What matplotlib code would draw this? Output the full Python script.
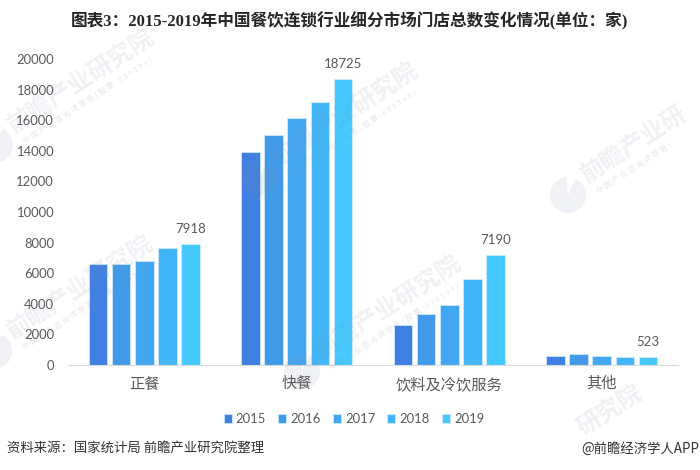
import numpy as np
import matplotlib
matplotlib.use('Agg')
import matplotlib.pyplot as plt
from matplotlib.patches import Wedge

plt.rcParams['font.family'] = ['Lato', 'Noto Sans CJK SC', 'DejaVu Sans']

categories = ['正餐', '快餐', '饮料及冷饮服务', '其他']
years = ['2015', '2016', '2017', '2018', '2019']
v2015 = [6600, 13900, 2620, 570]
v2016 = [6600, 15020, 3330, 700]
v2017 = [6830, 16120, 3940, 570]
v2018 = [7640, 17190, 5620, 505]
v2019 = [7918, 18725, 7190, 523]
series = [v2015, v2016, v2017, v2018, v2019]
colors = ['#3F80E2', '#409AE8', '#42A6F1', '#42B5F8', '#45C9FF']
yticks = [0, 2000, 4000, 6000, 8000, 10000, 12000, 14000, 16000, 18000, 20000]

fig = plt.figure(figsize=(7, 4.7), dpi=100)
ax = fig.add_axes([68 / 700, 105 / 470, 610 / 700, 306 / 470])

x = np.arange(len(categories))
step = 0.152
for i, vals in enumerate(series):
    ax.bar(x + (i - 2) * step, vals, width=0.122, color=colors[i],
           edgecolor='#CFE8FB', linewidth=0.6, label=years[i], zorder=2)

# 只标2019年的数值
for xi, v in zip(x, v2019):
    ax.text(xi + 2 * step, v + 560, str(v), ha='center', va='bottom',
            fontsize=9.5, color='#595959')

ax.set_xlim(-0.5, 3.5)
ax.set_ylim(0, 20000)
ax.set_xticks(x)
ax.set_xticklabels(categories, fontsize=11, color='#595959')
ax.set_yticks(yticks)
ax.set_yticklabels(yticks, fontsize=9.4, color='#595959')
ax.tick_params(length=0)
ax.tick_params(axis='x', pad=8.5)
ax.tick_params(axis='y', pad=10)
for s in ['top', 'right', 'left']:
    ax.spines[s].set_visible(False)
ax.spines['bottom'].set_color('#D9D9D9')

fig.legend(loc='center', bbox_to_anchor=(354 / 700, 1 - 419 / 470), ncol=5, frameon=False,
           fontsize=9.4, labelcolor='#595959', handlelength=0.62, handleheight=0.62,
           handletextpad=0.31, columnspacing=0.93, borderpad=0)

fig.text(349 / 700, 1 - 21 / 470, '图表3：2015-2019年中国餐饮连锁行业细分市场门店总数变化情况(单位：家)',
         ha='center', va='center', fontsize=12, fontweight='bold', color='#262626',
         family=['Liberation Serif', 'Noto Sans CJK SC'])
fig.text(7 / 700, 1 - 449 / 470, '资料来源：国家统计局 前瞻产业研究院整理',
         ha='left', va='center', fontsize=9.6, color='#333333', family=['Noto Sans CJK SC'])
fig.text(699 / 700, 1 - 449 / 470, '@前瞻经济学人APP',
         ha='right', va='center', fontsize=9.6, color='#333333', family=['Noto Sans CJK SC'])

# 水印
sub = '中 国 产 业 咨 询 领 导 者 ( 股 票 : 8 3 9 5 9 9 )'
marks = [(10, 127, '前瞻产业研究院', sub), (274, 160, '前瞻产业研究院', sub),
         (583, 177, '前瞻产业研', sub[:19]), (9, 333, '前瞻产业研究院', sub),
         (317, 353, '前瞻产业研究院', sub), (579, 430, '研究院', '')]
for wx, wy, name, small in marks:
    fig.text(wx / 700, 1 - wy / 470, name, ha='left', va='center', rotation=33,
             rotation_mode='anchor', fontsize=17.5, fontweight='bold', color='#8090A8',
             alpha=0.12, zorder=5, family=['Noto Sans CJK SC'])
    if small:
        fig.text((wx + 14) / 700, 1 - (wy + 15) / 470, small, ha='left', va='center', rotation=33,
                 rotation_mode='anchor', fontsize=5.6, color='#8090A8',
                 alpha=0.2, zorder=5, family=['Noto Sans CJK SC'])
    if name != '研究院':
        fig.add_artist(Wedge(((wx - 15) / 100, (470 - wy - 18) / 100), 0.18, 95, 425,
                             transform=fig.dpi_scale_trans, color='#8090A8', alpha=0.12,
                             linewidth=0, zorder=5))

fig.savefig('out.png', dpi=100)
